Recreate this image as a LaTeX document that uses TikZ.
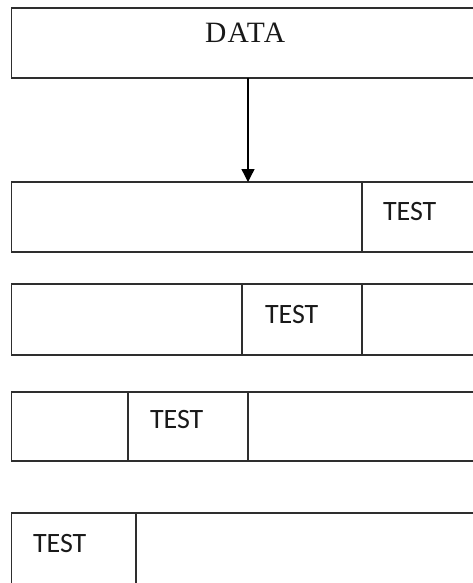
\documentclass[tikz,border=0pt]{standalone}
\usepackage{fontspec}
\setmainfont{Liberation Serif}
\newfontfamily\calib{Carlito}
\newfontfamily\dataf[LetterSpace=4]{Liberation Serif}
\usetikzlibrary{arrows.meta}
\begin{document}
\begin{tikzpicture}[x=1pt,y=-1pt,
  cell/.style={draw=black!82,line width=1.4pt,rectangle,inner sep=0pt,outer sep=0pt,anchor=north west},
  lbl/.style={inner sep=0pt,outer sep=0pt,anchor=base west,font=\calib\fontsize{28}{30}\selectfont,text=black!90},
  conn/.style={draw=black,line width=1.4pt,-{Triangle[width=13pt,length=13pt]}}]
\useasboundingbox (0,0) rectangle (473,583);
\clip (0,0) rectangle (473,583);
% top box
\node[cell,minimum width=480,minimum height=70] (data) at (11.5,8) {};
\node[inner sep=0pt,anchor=base west,font=\dataf\fontsize{29.5}{31}\selectfont,text=black!90] (datat) at (205,43) {DATA};
% row 1
\node[cell,minimum width=350.5,minimum height=70] (r1a) at (11.5,182) {};
\node[cell,minimum width=130,minimum height=70] (r1b) at (362,182) {};
\node[lbl] (t1) at (383,220) {TEST};
% row 2
\node[cell,minimum width=230.5,minimum height=71] (r2a) at (11.5,284) {};
\node[cell,minimum width=120,minimum height=71] (r2b) at (242,284) {};
\node[cell,minimum width=130,minimum height=71] (r2c) at (362,284) {};
\node[lbl] (t2) at (265,323) {TEST};
% row 3
\node[cell,minimum width=116.5,minimum height=69] (r3a) at (11.5,392) {};
\node[cell,minimum width=120,minimum height=69] (r3b) at (128,392) {};
\node[cell,minimum width=250,minimum height=69] (r3c) at (248,392) {};
\node[lbl] (t3) at (150,428) {TEST};
% row 4
\node[cell,minimum width=124.5,minimum height=77] (r4a) at (11.5,513) {};
\node[cell,minimum width=360,minimum height=77] (r4b) at (136,513) {};
\node[lbl] (t4) at (33,552) {TEST};
% arrow
\coordinate (ax) at (248,0);
\draw[conn] (data.south -| ax) -- (r1a.north -| ax);
\end{tikzpicture}
\end{document}
